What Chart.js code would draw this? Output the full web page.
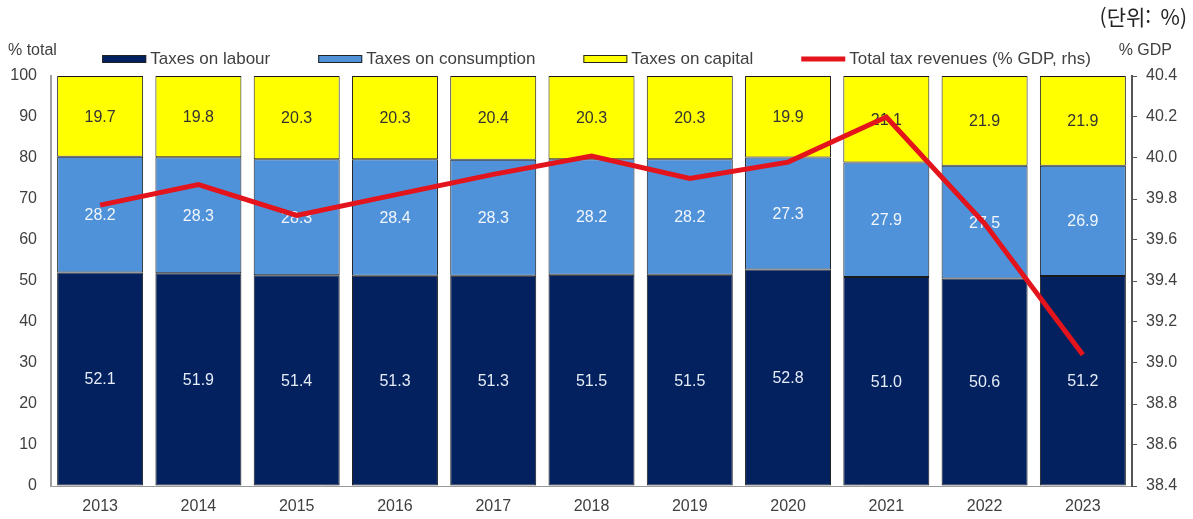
<!DOCTYPE html>
<html lang="ko">
<head>
<meta charset="UTF-8">
<title>Tax structure and total tax revenues</title>
<style>
    body {
        margin: 0;
        padding: 0;
        background: #fff;
    }
    #wrap {
        position: relative;
        width: 1193px;
        height: 519px;
    }
</style>
<script src="https://cdn.jsdelivr.net/npm/chart.js"></script>
</head>
<body>
<div id="wrap">
    <canvas id="taxChart"></canvas>
</div>
<script>
    const years = ['2013', '2014', '2015', '2016', '2017', '2018', '2019', '2020', '2021', '2022', '2023'];
    const labourShare = [52.1, 51.9, 51.4, 51.3, 51.3, 51.5, 51.5, 52.8, 51.0, 50.6, 51.2];
    const consumptionShare = [28.2, 28.3, 28.3, 28.4, 28.3, 28.2, 28.2, 27.3, 27.9, 27.5, 26.9];
    const capitalShare = [19.7, 19.8, 20.3, 20.3, 20.4, 20.3, 20.3, 19.9, 21.1, 21.9, 21.9];
    const totalRevenueGdp = [39.77, 39.87, 39.72, 39.82, 39.92, 40.01, 39.90, 39.98, 40.20, 39.68, 39.04];

    const FONT = '"Liberation Sans", Arial, sans-serif';
    const TEXT = '#404040';

    // value labels in the middle of each bar segment, drawn before the line
    const segmentLabels = {
        id: 'segmentLabels',
        afterDatasetDraw(chart, args) {
            const ds = chart.data.datasets[args.index];
            if (ds.type !== 'bar') return;
            const ctx = chart.ctx;
            ctx.save();
            ctx.font = '16px ' + FONT;
            ctx.textAlign = 'center';
            ctx.textBaseline = 'middle';
            ctx.fillStyle = ds.labelColor;
            args.meta.data.forEach((bar, i) => {
                const y = (bar.y + bar.base) / 2;
                ctx.fillText(ds.data[i].toFixed(1), bar.x, y + 1);
            });
            ctx.restore();
        }
    };

    // legend row, axis unit captions and the unit note
    const captions = {
        id: 'captions',
        afterDraw(chart) {
            const ctx = chart.ctx;
            ctx.save();
            ctx.textBaseline = 'middle';
            ctx.fillStyle = TEXT;
            ctx.font = '16px ' + FONT;
            ctx.textAlign = 'left';
            ctx.fillText('% total', 8, 51);
            ctx.textAlign = 'right';
            ctx.fillText('% GDP', 1172, 51);

            ctx.font = '21px "Noto Sans CJK KR", sans-serif';
            ctx.fillStyle = '#222';
            ctx.fillText('(단위:  %)', 1187, 17);

            // legend
            ctx.font = '17px ' + FONT;
            ctx.textAlign = 'left';
            const boxW = 44, gap = 48, pad = 4, y = 59;
            const items = chart.data.datasets.map(ds => ({
                text: ds.label,
                type: ds.type,
                color: ds.type === 'line' ? ds.borderColor : ds.backgroundColor
            }));
            const widths = items.map(it => boxW + pad + ctx.measureText(it.text).width);
            const total = widths.reduce((a, b) => a + b, 0) + gap * (items.length - 1);
            let x = (chart.width - total) / 2;
            items.forEach((it, i) => {
                if (it.type === 'line') {
                    ctx.strokeStyle = it.color;
                    ctx.lineWidth = 5;
                    ctx.beginPath();
                    ctx.moveTo(x, y);
                    ctx.lineTo(x + boxW, y);
                    ctx.stroke();
                } else {
                    ctx.fillStyle = it.color;
                    ctx.fillRect(x, y - 4, boxW, 8);
                    ctx.strokeStyle = '#222';
                    ctx.lineWidth = 1;
                    ctx.strokeRect(x + 0.5, y - 3.5, boxW - 1, 7);
                }
                ctx.fillStyle = TEXT;
                ctx.fillText(it.text, x + boxW + pad, y);
                x += widths[i] + gap;
            });
            ctx.restore();
        }
    };

    const ctx = document.getElementById('taxChart').getContext('2d');
    new Chart(ctx, {
        data: {
            labels: years,
            datasets: [
                {
                    type: 'bar',
                    label: 'Taxes on labour',
                    data: labourShare,
                    backgroundColor: '#03205f',
                    labelColor: '#e4ecf6',
                    yAxisID: 'y',
                    order: 1
                },
                {
                    type: 'bar',
                    label: 'Taxes on consumption',
                    data: consumptionShare,
                    backgroundColor: '#4f92d9',
                    labelColor: '#f2f6fb',
                    yAxisID: 'y',
                    order: 1
                },
                {
                    type: 'bar',
                    label: 'Taxes on capital',
                    data: capitalShare,
                    backgroundColor: '#ffff00',
                    labelColor: '#333333',
                    yAxisID: 'y',
                    order: 1
                },
                {
                    type: 'line',
                    label: 'Total tax revenues (% GDP, rhs)',
                    data: totalRevenueGdp,
                    borderColor: '#e3141c',
                    borderWidth: 5,
                    pointRadius: 0,
                    tension: 0,
                    yAxisID: 'y2',
                    order: 0
                }
            ]
        },
        options: {
            responsive: true,
            maintainAspectRatio: false,
            animation: false,
            layout: {
                padding: { top: 76, left: 0, right: 0, bottom: 0 }
            },
            datasets: {
                bar: {
                    barPercentage: 0.875,
                    categoryPercentage: 1.0,
                    borderWidth: 1,
                    borderColor: '#1a1a1a',
                    borderSkipped: false
                }
            },
            plugins: {
                legend: { display: false },
                tooltip: { enabled: false }
            },
            scales: {
                x: {
                    stacked: true,
                    grid: { display: false },
                    border: { color: '#9a9a9a', width: 1 },
                    ticks: {
                        color: TEXT,
                        font: { family: FONT, size: 16 },
                        padding: 3
                    },
                    afterFit(scale) { scale.height = 33; }
                },
                y: {
                    stacked: true,
                    position: 'left',
                    min: 0,
                    max: 100,
                    ticks: {
                        stepSize: 10,
                        color: TEXT,
                        font: { family: FONT, size: 16 },
                        padding: 14
                    },
                    grid: { drawOnChartArea: false, drawTicks: false },
                    border: { color: '#a0a0a0', width: 2 },
                    afterFit(scale) { scale.width = 51; }
                },
                y2: {
                    position: 'right',
                    min: 38.4,
                    max: 40.4,
                    ticks: {
                        stepSize: 0.2,
                        color: TEXT,
                        font: { family: FONT, size: 16 },
                        padding: 9,
                        callback: v => v.toFixed(1)
                    },
                    grid: { drawOnChartArea: false, tickLength: 5, color: '#555' },
                    border: { color: '#555', width: 2 },
                    afterFit(scale) { scale.width = 61; }
                }
            }
        },
        plugins: [segmentLabels, captions]
    });
</script>
</body>
</html>
